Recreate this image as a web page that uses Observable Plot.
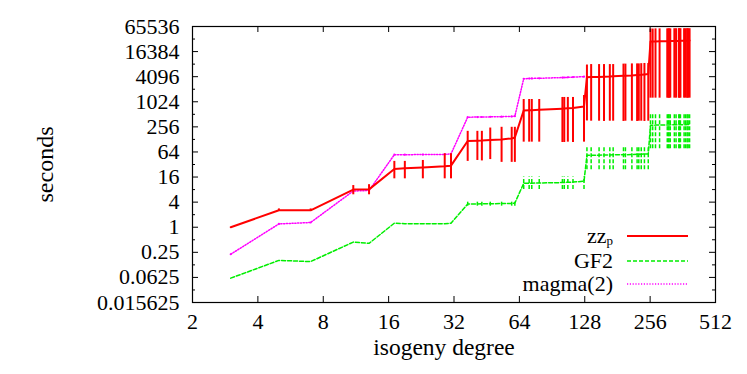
<!DOCTYPE html>
<html>
<head>
<meta charset="utf-8">
<script src="https://cdn.jsdelivr.net/npm/d3@7"></script>
<script src="https://cdn.jsdelivr.net/npm/@observablehq/plot@0.6"></script>
<style>
  html, body { margin: 0; padding: 0; background: #fff; }
  #chart svg { display: block; }
</style>
</head>
<body>
<div id="chart"></div>
<script>
// ---- data ----
const degrees = [3,5,7,11,13, 17,19,23,29,31, 37,41,43,47,53,59,61,
  67,71,73,79,101,103,107,113,127,
  131,137,149,157,167,173,193,197,211,223,227,233,241,251,
  257,263,271,283,307,311,313,317,331,337,347,349,353,367,373,379,383,389];

const zzMean = [1.0,2.55,2.55,8.0,8.1, 25,26,27,29,30, 117,119,120,124,128,135,142,
  630,640,645,655,700,705,715,730,790,
  3950,4000,4050,4100,4150,4200,4300,4320,4400,4500,4520,4550,4650,4750,
  28500,28700,28800,29000,29100,29200,29200,29300,29400,29500,29600,29600,29700,29800,29900,30000,30000,30100];
const zzLow = [1.0,2.4,2.4,6.0,6.0, 14.5,14.5,14.5,14.5,14.5, 38,40,39,42,36,36,36,
  110,110,110,110,108,108,110,108,110,
  355,350,350,345,350,350,345,350,350,345,350,350,345,350,
  1250,1250,1250,1250,1250,1250,1250,1250,1250,1250,1250,1250,1250,1250,1250,1250,1250,1250];
const zzHigh = [1.0,2.75,2.75,10,10.5, 38,38,40,58,58, 200,200,200,240,250,250,250,
  1160,1160,1160,1160,1300,1300,1300,1300,1450,
  7800,8000,8000,8000,8000,8000,8200,8200,8300,8300,8300,8400,8500,8500,
  57000,57000,57500,57500,57500,57500,57500,57500,58000,58000,58000,58000,58000,58000,58000,58000,58000,58000];

const gf2Mean = [0.06,0.16,0.15,0.44,0.41, 1.25,1.22,1.22,1.22,1.25, 3.6,3.6,3.65,3.65,3.7,3.7,3.8,
  11.3,11.4,11.4,11.5,11.8,11.9,12.0,12.1,12.7,
  53,53,53.5,54,54,54.5,55,55,55.5,56,56,56.5,57,57,
  280,281,282,283,284,285,285,286,286,287,287,288,288,289,289,290,290,290];
const gf2Low = [0.06,0.16,0.15,0.44,0.41, 1.25,1.22,1.22,1.22,1.25, 3.2,3.2,3.2,3.2,3.2,3.2,3.2,
  8,8,8,8,8,8,8,8,8,
  24,24,24,24,24,24,24,24,24,24,24,24,24,24,
  76,76,76,76,76,76,76,76,76,76,76,76,76,76,76,76,76,76];
const gf2High = [0.06,0.16,0.15,0.44,0.41, 1.25,1.22,1.22,1.22,1.25, 4.2,4.2,4.2,4.2,4.2,4.2,4.2,
  16,16,16,16,16,16,16,16,16,
  85,85,85,85,85,85,85,85,85,85,85,85,85,85,
  500,500,500,500,500,500,500,500,500,500,500,500,500,500,500,500,500,500];

const magmaDegrees = [3,5,7,11,13, 17,19,23,29,31, 37,41,43,47,53,59,61,
  67,71,73,79,101,103,107,113,127];
const magmaMean = [0.225,1.2,1.3,7.4,7.6, 55,55,55.5,56,57.5, 437,440,442,445,450,455,461,
  3650,3700,3720,3750,3900,3920,3950,4000,4100];

const xTicks = [2,4,8,16,32,64,128,256,512];
const yMajor = [0.015625,0.0625,0.25,1,4,16,64,256,1024,4096,16384,65536];
const yMinor = [0.03125,0.125,0.5,2,8,32,128,512,2048,8192,32768];

const seriesNames = ["zz", "GF2", "magma(2)"];
const seriesColors = ["#ff0000", "#00ee00", "#ff00ff"];

// ---- layout ----
const W = 747, H = 374;
const mL = 192, mR = 32, mT = 26, mB = 72;
const pW = W - mL - mR, pH = H - mT - mB;
const FONT = "'Liberation Serif', 'Times New Roman', serif";

const zzRows = degrees.map((d, i) => ({x: d, y: zzMean[i], lo: zzLow[i], hi: zzHigh[i]}));
const gfRows = degrees.map((d, i) => ({x: d, y: gf2Mean[i], lo: gf2Low[i], hi: gf2High[i]}));
const mgRows = magmaDegrees.map((d, i) => ({x: d, y: magmaMean[i]}));

const dashG = "4,2", dashM = "1.2,1.6";

function legend() {
  const g = d3.create("svg:g");
  const right = W - mR, bottom = H - mB;
  const ys = [bottom - 66, bottom - 41, bottom - 18];
  const dashes = [null, dashG, dashM];
  const widths = [2, 1.5, 1.5];
  seriesNames.forEach((name, i) => {
    const t = g.append("text")
      .attr("x", right - 102).attr("y", ys[i]).attr("dy", "0.32em")
      .attr("text-anchor", "end")
      .style("font-family", FONT).attr("font-size", 22).attr("fill", "black");
    t.append("tspan").text(name);
    if (i === 0) t.append("tspan").attr("font-size", 13).attr("dy", 2).text("p");
    const l = g.append("line")
      .attr("x1", right - 88).attr("x2", right - 27)
      .attr("y1", ys[i]).attr("y2", ys[i])
      .attr("stroke", seriesColors[i]).attr("stroke-width", widths[i]);
    if (dashes[i]) l.attr("stroke-dasharray", dashes[i]);
  });
  return g.node();
}

const chart = Plot.plot({
  width: W, height: H,
  marginLeft: mL, marginRight: mR, marginTop: mT, marginBottom: mB,
  style: {fontFamily: FONT, fontSize: "22px", background: "#fff", color: "black"},
  x: {type: "log", base: 2, domain: [2, 512], axis: null},
  y: {type: "log", base: 2, domain: [0.015625, 65536], axis: null},
  marks: [
    // series
    Plot.ruleX(gfRows.filter(d => d.hi > d.lo), {x: "x", y1: "lo", y2: "hi", stroke: seriesColors[1], strokeWidth: 1.5, strokeDasharray: dashG}),
    Plot.line(gfRows, {x: "x", y: "y", stroke: seriesColors[1], strokeWidth: 1.5, strokeDasharray: dashG}),
    Plot.line(mgRows, {x: "x", y: "y", stroke: seriesColors[2], strokeWidth: 1.5, strokeDasharray: dashM}),
    Plot.dot(mgRows, {x: "x", y: "y", r: 1.1, fill: seriesColors[2], stroke: null}),
    Plot.ruleX(zzRows.filter(d => d.hi > d.lo), {x: "x", y1: "lo", y2: "hi", stroke: seriesColors[0], strokeWidth: 2}),
    Plot.line(zzRows, {x: "x", y: "y", stroke: seriesColors[0], strokeWidth: 2}),
    // ticks (inward, mirrored)
    Plot.tickY(yMajor, {y: d => d, insetRight: pW - 6, stroke: "black"}),
    Plot.tickY(yMajor, {y: d => d, insetLeft: pW - 6, stroke: "black"}),
    Plot.tickY(yMinor, {y: d => d, insetRight: pW - 3, stroke: "black"}),
    Plot.tickY(yMinor, {y: d => d, insetLeft: pW - 3, stroke: "black"}),
    Plot.tickX(xTicks, {x: d => d, insetTop: pH - 6, stroke: "black"}),
    Plot.tickX(xTicks, {x: d => d, insetBottom: pH - 6, stroke: "black"}),
    Plot.frame({stroke: "black", strokeWidth: 1.2}),
    // tick labels
    Plot.axisY(yMajor, {anchor: "left", tickSize: 0, tickPadding: 13, tickFormat: d => String(d), fontSize: 22, fontFamily: FONT, label: null}),
    Plot.axisX(xTicks, {anchor: "bottom", tickSize: 0, tickPadding: 11, tickFormat: d => String(d), fontSize: 22, fontFamily: FONT, label: null}),
    // axis titles
    Plot.text(["isogeny degree"], {frameAnchor: "bottom", lineAnchor: "middle", textAnchor: "middle", dy: 45, dx: -10, fontSize: 23.5, fontFamily: FONT, text: d => d}),
    Plot.text(["seconds"], {frameAnchor: "left", lineAnchor: "middle", textAnchor: "middle", dx: -147, rotate: -90, fontSize: 24, fontFamily: FONT, text: d => d}),
    legend
  ]
});
document.getElementById("chart").appendChild(chart);
</script>
</body>
</html>
